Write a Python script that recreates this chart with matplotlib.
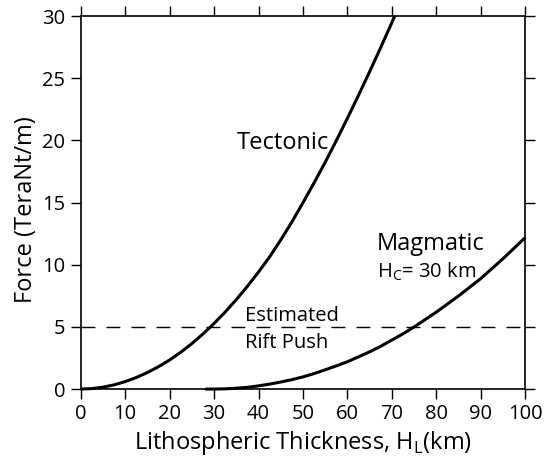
import matplotlib
matplotlib.use("Agg")
import matplotlib.pyplot as plt

plt.rcParams['font.family'] = ['Open Sans', 'DejaVu Sans']

# Data
tectonic_x = [0, 2.5, 5, 7.5, 10, 12.5, 15, 17.5, 20, 22.5, 25, 27.5, 30, 32.5, 35,
              37.5, 40, 42.5, 45, 47.5, 50, 52.5, 55, 57.5, 60, 62.5, 65, 67.5, 70, 70.6]
tectonic_f = [0, 0.04, 0.15, 0.34, 0.60, 0.93, 1.33, 1.80, 2.34, 2.96, 3.66, 4.43, 5.28, 6.20, 7.20,
              8.27, 9.42, 10.64, 12.0, 13.45, 15.0, 16.6, 18.25, 20.0, 21.8, 23.65, 25.55, 27.5, 29.5, 30.0]

magmatic_x = [28, 30, 32.5, 35, 37.5, 40, 42.5, 45, 47.5, 50, 52.5, 55, 57.5, 60, 62.5, 65,
              67.5, 70, 72.5, 75, 77.5, 80, 82.5, 85, 87.5, 90, 92.5, 95, 97.5, 100]
magmatic_f = [0, 0.0, 0.02, 0.07, 0.14, 0.26, 0.4, 0.57, 0.76, 0.98, 1.25, 1.55, 1.87, 2.2, 2.6, 3.0,
              3.45, 3.95, 4.45, 5.0, 5.6, 6.2, 6.85, 7.5, 8.2, 8.9, 9.7, 10.5, 11.35, 12.2]

rift_push = 5
x_ticks = [0, 10, 20, 30, 40, 50, 60, 70, 80, 90, 100]
y_ticks = [0, 5, 10, 15, 20, 25, 30]

fig = plt.figure(figsize=(5.45, 4.61), dpi=100)
ax = fig.add_axes([0.148, 0.156, 0.816, 0.809])

ax.plot(tectonic_x, tectonic_f, color='black', lw=2.2, solid_joinstyle='round',
        solid_capstyle='butt', clip_on=False)
ax.plot(magmatic_x, magmatic_f, color='black', lw=2.2, solid_joinstyle='round',
        solid_capstyle='butt', clip_on=False)
ax.axhline(rift_push, color='black', lw=1.0, dashes=(10, 8))

ax.set_xlim(0, 100)
ax.set_ylim(0, 30)
ax.set_xticks(x_ticks)
ax.set_yticks(y_ticks)
ax.tick_params(direction='out', length=7, width=1.0, labelsize=14.5,
               top=True, right=True, labeltop=False, labelright=False, pad=4)
for s in ax.spines.values():
    s.set_linewidth(1.2)

ax.set_xlabel('Lithospheric Thickness, H$_\\mathregular{L}$(km)', fontsize=17, labelpad=3)
ax.set_ylabel('Force (TeraNt/m)', fontsize=17)
ax.yaxis.set_label_coords(-0.097, 0.48)

ax.text(35.1, 19.8, 'Tectonic', fontsize=17, ha='left', va='center')
ax.text(66.6, 11.7, 'Magmatic', fontsize=17, ha='left', va='center')
ax.text(66.6, 9.4, 'H$_\\mathregular{C}$= 30 km', fontsize=14.5, ha='left', va='center')
ax.text(37, 5.9, 'Estimated', fontsize=14.5, ha='left', va='center')
ax.text(37, 3.7, 'Rift Push', fontsize=14.5, ha='left', va='center')

fig.savefig('out.png', dpi=100)
